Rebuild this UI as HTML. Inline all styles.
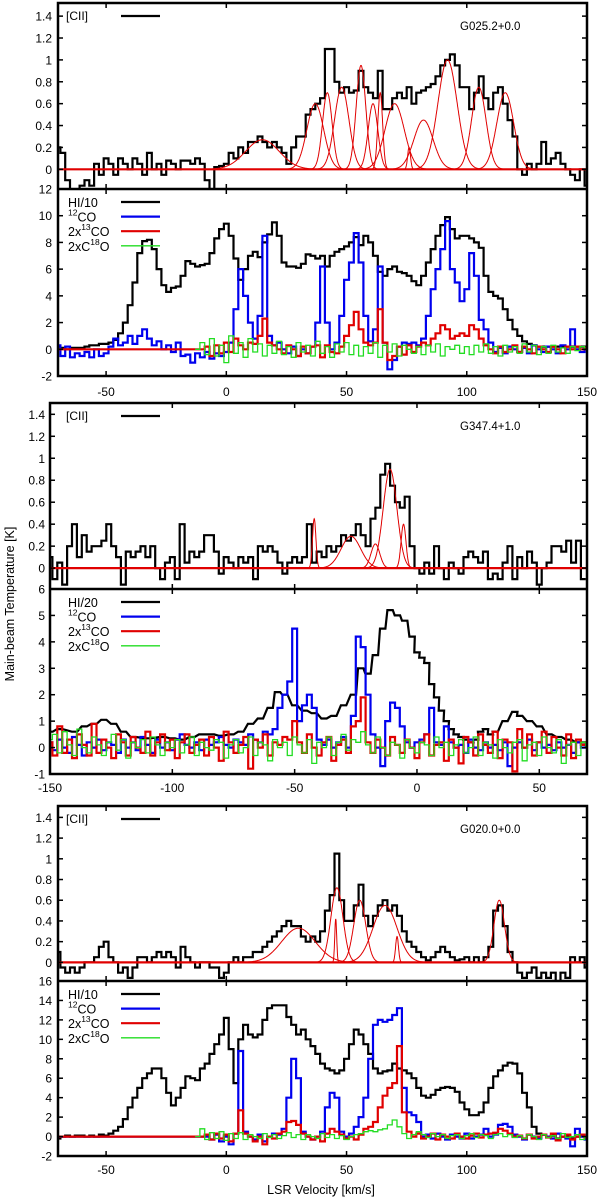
<!DOCTYPE html>
<html><head><meta charset="utf-8"><style>
html,body{margin:0;padding:0;background:#fff;}
svg{display:block;font-family:"Liberation Sans",sans-serif;}
</style></head><body>
<svg id="chart" width="600" height="1200" viewBox="0 0 600 1200" xmlns="http://www.w3.org/2000/svg">
<text x="0" y="0" transform="translate(14,604) rotate(-90)" text-anchor="middle" font-size="12.5">Main-beam Temperature [K]</text>
<text x="321" y="1194" text-anchor="middle" font-size="12.5">LSR Velocity [km/s]</text>
</svg>
<script>
// ---------- Panel 1: G025.2+0.0 ----------
const p1Start = -70, p1Step = 2;
const p1Cii = [0.2,0.15,-0.1,-0.2,-0.25,-0.15,-0.1,-0.15,0.05,-0.05,0.1,0.05,-0.05,0.1,0.05,0.0,0.1,0.05,-0.05,0.15,0.0,0.05,-0.05,0.08,0.05,0.0,0.08,0.08,0.05,0.1,0.05,-0.1,-0.2,0.02,0.03,0.05,0.15,0.1,0.2,0.15,0.25,0.25,0.3,0.25,0.2,0.25,0.2,0.15,0.05,0.2,0.3,0.3,0.5,0.55,0.6,0.65,1.1,1.1,0.8,0.7,0.75,0.7,0.72,0.9,0.75,0.7,0.65,0.9,0.55,0.55,0.65,0.7,0.65,0.75,0.6,0.7,0.72,0.75,0.78,0.85,0.95,1.0,1.05,0.95,0.75,0.75,0.55,0.7,0.85,0.65,0.55,0.7,0.75,0.6,0.45,0.3,0.0,-0.05,0.05,0.0,0.05,0.25,0.05,0.1,0.15,0.05,0.0,-0.05,-0.1,0.0,-0.15];
const p1GaussAmp = [0.27,0.6,0.7,0.75,0.95,0.6,0.7,0.6,0.2,0.45,1.0,0.75,0.7];
const p1GaussCen = [15,37,42,48,56,61,64,70,76,82,92,105,116];
const p1GaussSig = [7,3.5,2,3,2,2,1,4,0.6,4,4,3,3.5];
const p1Hi = [0.2,0.1,0,0.1,0.1,0.1,0.2,0.3,0.3,0.4,0.4,0.5,0.7,1.2,2,3.3,5,7.2,8.1,8.2,7.5,6,4.8,4.3,4.6,4.7,5.5,6.6,6.4,6.2,6.3,6.4,7.2,8.3,9.0,9.4,8.5,6.8,5.2,6,7,7.3,6.9,8,8.6,9.5,8.5,6.5,6.2,6.2,6.1,6.4,7.1,7.0,6.8,7.0,6.2,7.0,7.3,7.5,7.7,8.0,8.4,7.8,8.5,8.0,7.0,5.8,5.5,6.0,6.2,5.8,5.7,5.5,5.1,4.8,5.5,6.5,7.5,8.5,9.3,9.9,9.0,8.3,8.5,8.5,8.3,8,7.6,5.5,4.3,4.0,3.8,3.0,2.2,1.5,1.0,0.6,0.4,0.3,0.2,0.2,0.2,0.2,0.2,0.2,0.2,0.2,0.2,0.2,0.2];
const p1Co12 = [0.3,-0.5,0.2,-0.6,-0.3,-0.5,-0.2,-0.6,0,-0.5,-0.3,0.2,0.8,0.3,0.5,1.0,0.4,1.0,1.5,0.8,0.3,0.6,0,0.3,-0.2,0.5,-0.5,-0.4,-1.0,-0.3,-0.6,-0.2,-0.7,-0.3,-0.5,-0.2,0.5,3,6,4,2,0.8,2.5,8.5,1,0.3,0.5,0,-0.3,0.2,-0.5,0,-0.3,0.2,2,6.2,2,0,0.5,2.5,5.2,6.5,8.7,6.5,2.5,0.6,1.5,6.2,0.5,-1.5,-0.8,0.2,0.5,0.4,0.5,0.3,0.8,2.5,4.5,6,7.5,9.6,6,5,3.6,4.5,7.2,5.5,2.2,1.5,0.5,-0.2,0.1,-0.3,0.2,0,-0.2,0.1,-0.3,0.3,0,-0.2,0.2,0,-0.3,0.3,0,1.5,0,-0.2,0];
const p1Co13 = [0,0,0,0,0,0,0,0,0,0,0,0,0,0,0,0,0,0,0,0,0,0,0,0,0,0,0,0,0,0,0,0.2,-0.5,0.3,-0.3,0.5,-0.2,0.8,0.3,0,0.5,0.4,1,2.3,0.5,0.3,0,-0.3,0.3,0,-0.5,0.2,-0.3,0.2,0.3,-0.6,0.3,-0.2,-0.3,0.2,1,1.8,2.8,1.5,0.5,0.3,0.5,3,0.5,-0.8,-0.5,0.2,-0.4,0.3,-0.2,0.2,0.5,0.3,0.8,1.2,1.8,1.5,0.8,1,1.2,1,1.8,1.5,0.8,0.3,0,-0.3,0.2,-0.2,0,0.3,-0.2,0.2,0,-0.3,0.2,0,-0.2,0.2,0,-0.3,0.2,0,0.2,0,0.1];
const p1C18Start = -12;
const p1C18 = [0,0.5,-0.4,0.8,-0.5,0.3,-1.0,1.0,-0.3,0.5,-0.6,0.8,-0.2,0.4,-0.5,0.3,-0.3,0.6,-0.4,0.2,-0.6,0.5,-0.2,0.3,-0.5,0.6,-0.3,0.2,-0.6,0.4,-0.2,0.5,-0.4,0.3,-0.5,0.2,-0.3,0.5,-0.6,0.3,-0.2,0.4,-0.5,0.3,0,-0.3,0.2,-0.4,0.3,-0.2,0.4,-0.5,0.2,0,0.3,-0.3,0.2,-0.4,0.3,-0.2,0.4,-0.3,0.2,-0.5,0.3,-0.2,0.2,-0.3,0.4,-0.2,0.3,-0.4,0.2,-0.3,0.3,-0.2,0.1,-0.3,0.2,-0.1,0.2,0];

// ---------- Panel 2: G347.4+1.0 ----------
const p2Start = -150, p2Step = 2;
const p2Cii = [0.1,-0.1,0.05,-0.15,0.2,0.4,0.1,0.3,0.15,0.2,0.2,0.25,0.4,0.2,0.1,-0.15,0.15,0.1,0.15,0.2,0.1,0.2,0,-0.1,0.05,0.1,-0.1,0.4,0.05,0.15,0.1,0.15,0.3,0.3,0.15,-0.05,0.1,0.05,0,0.1,0.05,0.1,-0.1,0.2,0.15,0.2,0.15,0.05,-0.05,0.05,0.1,0.05,0.1,0.4,0.05,0.15,0.1,0.2,0.15,0.2,0.3,0.25,0.3,0.4,0.3,0.2,0.45,0.55,0.85,0.95,0.75,0.6,0.55,0.65,0.2,0,-0.05,0.05,-0.05,0.2,0,-0.1,0.05,0,-0.05,0.1,0.15,0.1,0.05,0.15,-0.1,-0.05,-0.1,0.05,0.2,-0.1,0.1,0,0.15,0.05,-0.15,0,0.05,0.2,0.2,0.15,0.25,0.05,0.25,-0.1];
const p2GaussAmp = [0.45,0.29,0.22,0.9,0.4];
const p2GaussCen = [-42,-27,-17,-11,-5.5];
const p2GaussSig = [0.7,4,1.8,2.8,1];
const p2HiVel = [-150,-146,-140,-136,-132,-128,-124,-120,-116,-110,-104,-100,-96,-92,-88,-84,-80,-76,-72,-68,-64,-60,-57,-54,-50,-46,-42,-38,-34,-30,-26,-23,-20,-17,-14,-11,-8,-5,-2,0,2,4,6,8,10,12,14,16,18,20,22,24,26,28,30,32,36,40,42,46,50,54,58,62,66,70];
const p2Hi = [0.6,0.7,0.6,0.8,0.9,1.05,0.9,0.6,0.4,0.35,0.4,0.35,0.3,0.4,0.5,0.5,0.45,0.5,0.6,0.9,1.1,1.5,2.1,2.0,1.6,1.4,1.3,1.1,1.2,1.6,2.0,3.0,2.8,3.5,4.5,5.2,5.0,4.8,4.2,3.6,3.4,3.2,2.4,1.9,1.4,1.0,0.7,0.5,0.4,0.3,0.2,0.3,0.6,0.7,0.5,0.6,1.0,1.35,1.2,1.0,0.8,0.5,0.4,0.3,0.2,0.2];
const p2Co12 = [0.2,-0.1,0.3,0,-0.2,0.4,0.1,-0.3,0.2,0,0.3,-0.1,0.2,0.1,-0.2,0.3,0,0.2,-0.1,0.4,0.1,-0.2,0.3,0,0.2,-0.1,0.3,0.5,0.1,0,0.2,-0.1,0.3,0.1,0.2,0.4,0.1,0,0.3,0.2,0.1,0.5,0.3,0.2,0.6,0.5,0.7,1.5,2.0,2.5,4.5,1.0,1.6,2.0,1.5,0.3,0.1,0.3,0,0.2,0.4,0,1.2,4.2,3.8,2.0,0.5,0,-0.7,1.0,1.7,1.5,0.8,0.2,0,0.2,0.3,0.5,1.5,0.2,0.1,0.8,0.2,0,0.1,-0.2,0.3,0,-0.1,0.2,0,0.1,-0.1,0.2,-0.7,0,0.2,0,0.3,-0.1,0.2,0,0.1,-0.1,0.2,0,0.1,-0.2,0.2,0,0.1];
const p2Co13 = [0.2,-0.3,0.8,-0.2,0.3,-0.4,0.5,0.1,-0.3,0.9,-0.2,0.3,0,-0.4,0.5,0.2,-0.3,0.4,0,-0.2,0.6,-0.3,0.2,0.5,-0.1,0.3,-0.4,0.2,0.5,-0.2,0.1,0.3,-0.3,0.4,0,-0.5,0.6,0.2,-0.2,0.1,0.4,-0.8,0.3,0,0.5,-0.3,0.2,0.1,0.4,0.3,1.0,0.2,-0.2,0.5,0,-0.3,0.2,0.4,-0.5,0.1,0.3,-0.2,0.8,1.0,1.9,0.2,-0.2,0.3,0,-0.3,0.4,0.1,-0.2,0.3,0,-0.4,0.2,0.5,-0.3,0.1,0.2,-0.5,0.3,0,-0.6,0.4,0.2,-0.3,0.5,0.1,-0.2,0.6,-0.4,0.3,0.2,-0.9,0.7,0,0.5,-0.3,0.2,0.6,-0.2,0.4,0,-0.3,0.5,-0.4,0.3,0.1,0.2];
const p2C18 = [0.3,0.5,-0.2,0.6,0.1,-0.3,0.7,0,-0.2,0.4,0.1,-0.3,0.2,0.5,-0.1,0.3,-0.4,0.2,0,0.3,-0.2,0.4,0.1,-0.3,0.2,0,0.3,-0.2,0.1,0.4,-0.3,0.2,0,-0.1,0.3,0.2,-0.4,0.1,0.3,-0.2,0,0.4,-0.3,0.2,0.1,-0.5,0.3,0,0.2,-0.3,0.4,0.1,-0.2,0.3,-0.6,0.2,0,0.4,-0.3,0.2,0.5,-0.1,0.3,0.2,0.6,0.1,-0.2,0.4,0,-0.3,0.2,0.1,-0.4,0.3,0,-0.2,0.2,0.1,-0.3,0.4,0,0.2,-0.3,0.1,0.3,-0.2,0,0.4,-0.3,0.2,0.1,-0.4,0.3,0,-0.2,0.2,0.3,-0.5,0.1,0.2,-0.3,0.4,0,-0.2,0.3,-0.6,0.1,0.2,-0.3,0.2,0];

// ---------- Panel 3: G020.0+0.0 ----------
const p3Start = -70, p3Step = 2;
const p3Cii = [0.1,-0.05,-0.1,-0.05,-0.1,-0.05,0,0,0.05,0.15,0.2,0.05,0,-0.1,-0.05,-0.15,-0.05,0.05,0.05,0.0,0.05,0.1,0.05,0.1,0.05,-0.05,0.15,0.05,0.0,-0.05,0.0,0.0,-0.05,-0.05,-0.15,-0.1,0,0.05,0.0,0.05,0.05,0.1,0.1,0.15,0.2,0.25,0.3,0.35,0.4,0.35,0.35,0.25,0.2,0.25,0.2,0.3,0.5,0.65,1.05,0.6,0.4,0.4,0.55,0.75,0.45,0.35,0.45,0.55,0.6,0.5,0.55,0.45,0.3,0.2,0.15,0.1,0.05,0.02,0.05,0.1,0.15,0.1,0.05,0.02,0.03,0.05,0,0.05,0,0.05,0.15,0.5,0.55,0.35,0.1,0,-0.1,-0.15,-0.1,-0.05,-0.15,-0.1,-0.15,-0.1,-0.2,-0.1,-0.15,0.05,0,0.05,-0.05];
const p3GaussAmp = [0.33,0.72,0.42,0.6,0.55,0.25,0.6];
const p3GaussCen = [30,46,45.5,55.5,66,71,113.5];
const p3GaussSig = [7,2.5,0.4,2.5,5,0.6,2.2];
const p3Hi = [-0.2,0,0.1,0,0.1,0.1,0,0.1,0,0.2,0.1,0.3,0.6,1,1.8,3,4,5,6,6.5,7,7,6,4.5,3.2,4,5,6.2,6.0,5.8,7,7.5,8.5,9.5,10.5,12.2,9,5.5,10,11.5,10.5,10.2,10.5,12,13.2,13.5,13.5,13.5,12.3,11.5,10.5,11,10,9.3,8.5,7.5,7,6.8,6.5,6.8,8,9.5,11,10.5,9.5,8.5,7,6.5,6.7,6.8,7.5,7,6.8,6.5,6,5,4.2,4,4.3,4.8,5,5.1,5,4.6,3.5,2.8,2.2,2.2,2.5,3.5,5,6.2,6.8,7.3,7.6,7.5,6.5,4.5,3,1,0.3,0.2,0,0.1,-0.2,0,0.1,-0.2,0,0.1,-0.2];
const p3Co12 = [0,0,0,0,0,0,0,0,0,0,0,0,0,0,0,0,0,0,0,0,0,0,0,0,0,0,0,0,0,0,0,0,-0.3,0.2,-0.5,0,-0.8,0.3,8.8,0.5,0,-0.3,0.2,-0.5,0,0.3,0.2,0.8,4,8,6,0.5,0,-0.3,0,0.5,3,4.5,4,0.5,0,0.3,1,2,4,8,11.5,12,11.8,12,12.5,13.2,5,2.5,2.2,1.5,0,0.2,-0.2,0.3,0,-0.3,0.2,0,-0.2,0.3,-0.2,0,0.2,0.8,0,0.2,1.2,1.3,1.0,0.2,0,-0.3,0.2,0,-0.2,0.2,0,-0.2,0.3,0,-0.2,-1,0.8,0,-0.3];
const p3Co13 = [0,0,0,0,0,0,0,0,0,0,0,0,0,0,0,0,0,0,0,0,0,0,0,0,0,0,0,0,0,0,0,0.2,-0.3,0.3,-0.2,0.2,-0.5,0.3,2.7,0.3,0,-0.5,0,-0.8,0,-0.2,0.3,0.5,1.5,1.6,1.2,0.3,0,-0.3,0,-0.5,0.3,0.8,0.5,0.2,-0.2,0,-0.3,0.2,0.8,1,1.5,3,4.2,5,5.5,9.3,2.5,0.5,0,0.3,-0.2,0,0.3,-0.3,0.2,0,-0.2,0.3,0,-0.2,0.1,0.3,-0.1,0.2,0.3,0.4,0.8,0.6,0.3,0,0.1,-0.2,0.2,-0.2,0,0.2,-0.1,0.3,-0.4,0,0.2,-0.3,0,0.2,-0.1];
const p3C18Start = -12;
const p3C18 = [0,0.8,-0.3,0.4,-0.2,0.5,-0.4,0.3,-0.2,0.4,-0.3,0.2,0,-0.2,0.3,-0.1,0.2,-0.2,0.1,0.4,-0.1,0.2,-0.3,0.2,0,-0.2,0.3,-0.1,0.2,-0.2,0.1,-0.3,0,0.2,0.3,0.5,0.6,0.5,0.7,0.8,1.2,1.7,1.0,0.3,-0.2,0.2,0.5,0.2,-0.1,0.3,0,0.2,-0.2,0.1,0.2,-0.2,0.1,0.3,-0.1,0.2,0.1,-0.2,0.2,0.3,0,0.2,-0.1,0.1,-0.2,0.2,0,-0.3,0.2,-0.1,0.1,-0.2,0.3,-0.1,0,0.2,-0.3,0];

// ---------- rendering ----------
const NS = 'http://www.w3.org/2000/svg';
const svg = document.getElementById('chart');
function mk(tag, attrs, parent) {
  const e = document.createElementNS(NS, tag);
  for (const k in attrs) e.setAttribute(k, attrs[k]);
  (parent || svg).appendChild(e);
  return e;
}
function seq(start, step, n) { const a = []; for (let i = 0; i < n; i++) a.push(start + i * step); return a; }
function stepPath(vels, vals, step, X, Y) {
  let d = '';
  for (let i = 0; i < vals.length; i++) {
    const v0 = vels[i] - step / 2, v1 = vels[i] + step / 2;
    const y = Y(vals[i]);
    d += (i === 0 ? 'M' : 'L') + X(v0).toFixed(1) + ',' + y.toFixed(1) + 'L' + X(v1).toFixed(1) + ',' + y.toFixed(1);
  }
  return d;
}
function linePath(vels, vals, X, Y) {
  let d = '';
  for (let i = 0; i < vals.length; i++) d += (i === 0 ? 'M' : 'L') + X(vels[i]).toFixed(1) + ',' + Y(vals[i]).toFixed(1);
  return d;
}

const panels = [
  { id: 'g025', title: 'G025.2+0.0', hiLabel: 'HI/10', left: 58, right: 587, vmin: -70, vmax: 150, top: 3, mid: 189, bot: 376,
    uMin: -0.18, uMax: 1.52, lMin: -2, lMax: 12, lTicks: [-2,0,2,4,6,8,10,12], xTicks: [-50,0,50,100,150],
    cii: p1Cii, start: p1Start, step: p1Step, gA: p1GaussAmp, gC: p1GaussCen, gS: p1GaussSig,
    hiVel: null, hi: p1Hi, co12: p1Co12, co13: p1Co13, c18: p1C18, c18Start: p1C18Start, xlabY: 396, labX: 52 },
  { id: 'g347', title: 'G347.4+1.0', hiLabel: 'HI/20', left: 50, right: 587, vmin: -150, vmax: 69.5, top: 403, mid: 589, bot: 774,
    uMin: -0.19, uMax: 1.503, lMin: -1, lMax: 6, lTicks: [-1,0,1,2,3,4,5,6], xTicks: [-150,-100,-50,0,50],
    cii: p2Cii, start: p2Start, step: p2Step, gA: p2GaussAmp, gC: p2GaussCen, gS: p2GaussSig,
    hiVel: p2HiVel, hi: p2Hi, co12: p2Co12, co13: p2Co13, c18: p2C18, c18Start: p2Start, xlabY: 792, labX: 45 },
  { id: 'g020', title: 'G020.0+0.0', hiLabel: 'HI/10', left: 58, right: 587, vmin: -70, vmax: 150, top: 806, mid: 981, bot: 1156,
    uMin: -0.18, uMax: 1.51, lMin: -2, lMax: 16, lTicks: [-2,0,2,4,6,8,10,12,14,16], xTicks: [-50,0,50,100,150],
    cii: p3Cii, start: p3Start, step: p3Step, gA: p3GaussAmp, gC: p3GaussCen, gS: p3GaussSig,
    hiVel: null, hi: p3Hi, co12: p3Co12, co13: p3Co13, c18: p3C18, c18Start: p3C18Start, xlabY: 1174, labX: 52 }
];

panels.forEach((p, pi) => {
  const g = mk('g', {});
  
  
  const X = v => p.left + (v - p.vmin) / (p.vmax - p.vmin) * (p.right - p.left);
  const YU = t => p.mid - (t - p.uMin) / (p.uMax - p.uMin) * (p.mid - p.top);
  const YL = t => p.bot - (t - p.lMin) / (p.lMax - p.lMin) * (p.bot - p.mid);

  const defs = mk('defs', {}, g);
  const cu = mk('clipPath', { id: 'cu' + pi }, defs);
  mk('rect', { x: p.left, y: p.top, width: p.right - p.left, height: p.mid - p.top }, cu);
  const cl = mk('clipPath', { id: 'cl' + pi }, defs);
  mk('rect', { x: p.left, y: p.mid, width: p.right - p.left, height: p.bot - p.mid }, cl);

  const ug = mk('g', { 'clip-path': 'url(#cu' + pi + ')' }, g);
  const vel = seq(p.start, p.step, p.cii.length);
  const cii = mk('path', { d: stepPath(vel, p.cii, p.step, X, YU), fill: 'none', stroke: '#000', 'stroke-width': 2.2 }, ug);
  
  
  const fv = seq(p.vmin, 0.1, Math.round((p.vmax - p.vmin) / 0.1) + 1);
  for (let k = 0; k < p.gA.length; k++) {
    const vals = fv.map(v => p.gA[k] * Math.exp(-0.5 * Math.pow((v - p.gC[k]) / p.gS[k], 2)));
    const gp = mk('path', { d: linePath(fv, vals, X, YU), fill: 'none', stroke: '#e00000', 'stroke-width': 1 }, ug);
    
    
  }
  const zl = mk('line', { x1: p.left, x2: p.right, y1: YU(0), y2: YU(0), stroke: '#e00000', 'stroke-width': 2.2 }, ug);
  
  

  const lg = mk('g', { 'clip-path': 'url(#cl' + pi + ')' }, g);
  const hv = p.hiVel ? p.hiVel : seq(p.start, p.step, p.hi.length);
  const hi = mk('path', { d: p.hiVel ? stepPath(hv, p.hi, 2.2, X, YL) : stepPath(hv, p.hi, p.step, X, YL), fill: 'none', stroke: '#000', 'stroke-width': 2.2 }, lg);
  
  
  const b = mk('path', { d: stepPath(seq(p.start, p.step, p.co12.length), p.co12, p.step, X, YL), fill: 'none', stroke: '#0000ee', 'stroke-width': 2.2 }, lg);
  
  
  const r = mk('path', { d: stepPath(seq(p.start, p.step, p.co13.length), p.co13, p.step, X, YL), fill: 'none', stroke: '#e00000', 'stroke-width': 2.2 }, lg);
  
  
  const gr = mk('path', { d: stepPath(seq(p.c18Start, p.step, p.c18.length), p.c18, p.step, X, YL), fill: 'none', stroke: '#22dd22', 'stroke-width': 1.3 }, lg);
  
  

  const tk = mk('g', { stroke: '#000', 'stroke-width': 1.5 }, g);
  for (let t = 0; t <= 1.4001; t += 0.2) {
    const y = YU(t);
    mk('line', { x1: p.left, x2: p.left + 5, y1: y, y2: y }, tk);
    mk('line', { x1: p.right, x2: p.right - 5, y1: y, y2: y }, tk);
    const lab = mk('text', { x: p.labX, y: y + 4.5, 'text-anchor': 'end', 'font-size': 12, stroke: 'none' }, g);
    lab.textContent = (Math.round(t * 10) / 10).toString();
    
    
  }
  p.lTicks.forEach(t => {
    const y = YL(t);
    mk('line', { x1: p.left, x2: p.left + 5, y1: y, y2: y }, tk);
    mk('line', { x1: p.right, x2: p.right - 5, y1: y, y2: y }, tk);
    const lab = mk('text', { x: p.labX, y: y + 4.5, 'text-anchor': 'end', 'font-size': 12, stroke: 'none' }, g);
    lab.textContent = t;
    
    
  });
  p.xTicks.forEach(t => {
    const x = X(t);
    [p.top, p.mid].forEach(y0 => mk('line', { x1: x, x2: x, y1: y0, y2: y0 + 5 }, tk));
    [p.mid, p.bot].forEach(y0 => mk('line', { x1: x, x2: x, y1: y0, y2: y0 - 5 }, tk));
    const lab = mk('text', { x: x, y: p.xlabY, 'text-anchor': 'middle', 'font-size': 12, stroke: 'none' }, g);
    lab.textContent = t;
    
    
  });

  const fr = mk('rect', { x: p.left, y: p.top, width: p.right - p.left, height: p.bot - p.top, fill: 'none', stroke: '#000', 'stroke-width': 2.5 }, g);
  
  
  mk('line', { x1: p.left, x2: p.right, y1: p.mid, y2: p.mid, stroke: '#000', 'stroke-width': 2.5 }, g);

  const tt = mk('text', { x: 460, y: p.top + 27, 'font-size': 11.5 }, g);
  tt.textContent = p.title;
  
  

  const ul = mk('g', {}, g);
  
  
  const ut = mk('text', { x: 66, y: p.top + 17, 'font-size': 12 }, ul);
  ut.textContent = '[CII]';
  mk('line', { x1: 121, x2: 160, y1: p.top + 13, y2: p.top + 13, stroke: '#000', 'stroke-width': 2.2 }, ul);

  const entries = [
    { html: [[p.hiLabel, 0]], color: '#000', w: 2.2, name: 'hi-legend-entry' },
    { html: [['12', 1], ['CO', 0]], color: '#0000ee', w: 2.2, name: 'co12-legend-entry' },
    { html: [['2x', 0], ['13', 1], ['CO', 0]], color: '#e00000', w: 2.2, name: 'co13-legend-entry' },
    { html: [['2xC', 0], ['18', 1], ['O', 0]], color: '#22dd22', w: 1.3, name: 'c18o-legend-entry' }
  ];
  entries.forEach((e, i) => {
    const ly = p.mid + 13 + i * 14.6;
    const eg = mk('g', {}, g);
    
    
    const t = mk('text', { x: 68, y: ly + 5, 'font-size': 12.5 }, eg);
    e.html.forEach(([s, sup]) => {
      const ts = mk('tspan', sup ? { 'font-size': 8.5, dy: -6 } : { dy: 0 }, t);
      ts.textContent = s;
      if (sup) { const back = mk('tspan', { 'font-size': 0.1, dy: 6 }, t); back.textContent = ' '; }
    });
    mk('line', { x1: 121, x2: 160, y1: ly, y2: ly, stroke: e.color, 'stroke-width': e.w }, eg);
  });
});
</script>
</body></html>
